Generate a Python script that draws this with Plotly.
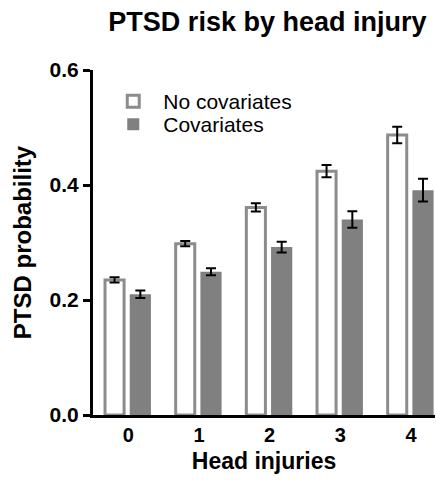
import plotly.graph_objects as go

# Number of head injuries and estimated PTSD probability per group
injuries = [0, 1, 2, 3, 4]
tick_labels = ["0", "1", "2", "3", "4"]

no_cov = [0.235, 0.298, 0.361, 0.424, 0.487]
no_cov_err = [0.0045, 0.0046, 0.0072, 0.0107, 0.0145]

cov = [0.210, 0.249, 0.292, 0.340, 0.391]
cov_err = [0.0066, 0.0061, 0.0093, 0.0142, 0.0197]

FONT = "Liberation Sans, Arial, Helvetica, sans-serif"
OUTLINE = "#8c8c8c"
FILL = "#808080"

fig = go.Figure()

fig.add_trace(go.Bar(
    x=injuries, y=no_cov, name="No covariates", legend="legend",
    width=0.27, offset=-0.33,
    marker=dict(color="white", line=dict(color=OUTLINE, width=3)),
    error_y=dict(type="data", array=no_cov_err, color="black", thickness=2, width=5),
))
fig.add_trace(go.Bar(
    x=injuries, y=cov, name="Covariates", legend="legend2",
    width=0.30, offset=0.02,
    marker=dict(color=FILL, line=dict(width=0)),
    error_y=dict(type="data", array=cov_err, color="black", thickness=2, width=5),
))

legend_style = dict(
    xanchor="left", yanchor="middle", yref="paper",
    font=dict(size=21, family=FONT, color="black"),
    bgcolor="rgba(0,0,0,0)", itemwidth=50,
)

fig.update_layout(
    width=436, height=487,
    margin=dict(l=93, r=1, t=70, b=72, autoexpand=False),
    paper_bgcolor="white", plot_bgcolor="white",
    font=dict(family=FONT, color="black"),
    barmode="group",
    showlegend=True,
    title=dict(
        text="<b>PTSD risk by head injury</b>",
        font=dict(size=27, family=FONT, color="black"),
        x=0.51, xanchor="center", xref="paper",
        y=0.955, yanchor="middle", yref="container",
    ),
    legend=dict(x=0.03, y=0.9087, **legend_style),
    legend2=dict(x=0.03, y=0.842, **legend_style),
    xaxis=dict(
        range=[-0.5, 4.34],
        tickmode="array", tickvals=injuries, ticktext=[f"<b>{t}</b>" for t in tick_labels],
        tickfont=dict(size=20, family=FONT, color="black"),
        showline=True, linecolor="black", linewidth=3,
        ticks="", showgrid=False, zeroline=False,
        title=dict(text="<b>Head injuries</b>", font=dict(size=23, family=FONT, color="black"), standoff=8),
    ),
    yaxis=dict(
        range=[0, 0.6],
        tickvals=[0, 0.2, 0.4, 0.6], ticktext=["<b>0.0</b>", "<b>0.2</b>", "<b>0.4</b>", "<b>0.6</b>"],
        tickfont=dict(size=21, family=FONT, color="black"),
        showline=True, linecolor="black", linewidth=3,
        ticks="outside", ticklen=7, tickwidth=3, tickcolor="black",
        showgrid=False, zeroline=False,
        title=dict(text="<b>PTSD probability</b>", font=dict(size=24, family=FONT, color="black"), standoff=12),
    ),
)

fig.write_html("out.html")
